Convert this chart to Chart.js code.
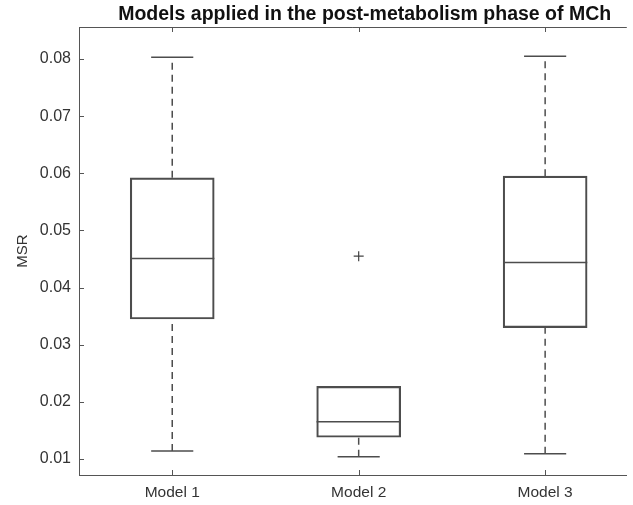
<!DOCTYPE html>
<html>
<head>
<meta charset="utf-8">
<script src="https://cdn.jsdelivr.net/npm/chart.js@4"></script>
<style>
  body { margin: 0; background: #fff; }
  #wrap { width: 633px; height: 505px; }
</style>
</head>
<body>
<div id="wrap"><canvas id="boxCanvas"></canvas></div>
<script>
// box plot stats
const models = ["Model 1", "Model 2", "Model 3"];
const lowWhisker = [0.0114, 0.0104, 0.0109];
const q1 = [0.0345, 0.0138, 0.0330];
const medians = [0.0451, 0.0165, 0.0444];
const q3 = [0.0592, 0.0227, 0.0595];
const highWhisker = [0.0803, 0.0227, 0.0805];
const outliers = [{ model: 2, value: 0.0455 }];
const yTicks = [0.01, 0.02, 0.03, 0.04, 0.05, 0.06, 0.07, 0.08];

const boxHalf = 0.226;
const capHalf = 0.113;
const lineColor = "#4d4d4d";

// build point lists for the library (null breaks a line)
let boxData = [];
let medianPts = [];
let whiskerPts = [];
let capPts = [];
for (let i = 0; i < models.length; i++) {
  const x = i + 1;
  boxData.push({ x: x, y: [q1[i], q3[i]] });
  medianPts.push({ x: x - boxHalf, y: medians[i] }, { x: x + boxHalf, y: medians[i] }, { x: x, y: null });
  whiskerPts.push({ x: x, y: q3[i] }, { x: x, y: highWhisker[i] }, { x: x + 0.5, y: null });
  whiskerPts.push({ x: x, y: lowWhisker[i] }, { x: x, y: q1[i] }, { x: x + 0.5, y: null });
  if (highWhisker[i] > q3[i]) {
    capPts.push({ x: x - capHalf, y: highWhisker[i] }, { x: x + capHalf, y: highWhisker[i] }, { x: x, y: null });
  }
  capPts.push({ x: x - capHalf, y: lowWhisker[i] }, { x: x + capHalf, y: lowWhisker[i] }, { x: x, y: null });
}
const outlierPts = outliers.map((o) => ({ x: o.model, y: o.value }));

// matlab style frame: top line, inward ticks, title over the axes
const matlabFrame = {
  id: "matlabFrame",
  afterDraw(chart) {
    const ctx = chart.ctx;
    const area = chart.chartArea;
    const xs = chart.scales.x;
    const ys = chart.scales.y;
    ctx.save();
    ctx.strokeStyle = "#555";
    ctx.lineWidth = 1;
    ctx.beginPath();
    ctx.moveTo(area.left, area.top + 0.5);
    ctx.lineTo(area.right, area.top + 0.5);
    for (let i = 0; i < yTicks.length; i++) {
      const py = Math.round(ys.getPixelForValue(yTicks[i])) + 0.5;
      ctx.moveTo(area.left, py);
      ctx.lineTo(area.left + 5, py);
    }
    for (let i = 0; i < models.length; i++) {
      const px = Math.round(xs.getPixelForValue(i + 1)) + 0.5;
      ctx.moveTo(px, area.bottom);
      ctx.lineTo(px, area.bottom - 5);
      ctx.moveTo(px, area.top);
      ctx.lineTo(px, area.top + 5);
    }
    ctx.stroke();
    ctx.fillStyle = "#111";
    ctx.font = "bold 19.5px 'Liberation Sans', Arial, sans-serif";
    ctx.textAlign = "center";
    ctx.textBaseline = "middle";
    const cx = (xs.getPixelForValue(0.5) + xs.getPixelForValue(3.5)) / 2 + 6;
    ctx.fillText("Models applied in the post-metabolism phase of MCh", cx, 15);
    ctx.restore();
  },
};

Chart.defaults.font.family = "'Liberation Sans', Arial, sans-serif";

new Chart(document.getElementById("boxCanvas"), {
  type: "bar",
  data: {
    datasets: [
      {
        type: "bar",
        data: boxData,
        backgroundColor: "rgba(255,255,255,0)",
        borderColor: lineColor,
        borderWidth: 1.5,
        borderSkipped: false,
        barThickness: 84,
        order: 2,
      },
      {
        type: "line",
        data: medianPts,
        borderColor: lineColor,
        borderWidth: 1.5,
        pointRadius: 0,
        spanGaps: false,
        order: 1,
      },
      {
        type: "line",
        data: whiskerPts,
        borderColor: lineColor,
        borderWidth: 1.5,
        borderDash: [7, 5],
        pointRadius: 0,
        spanGaps: false,
        order: 1,
      },
      {
        type: "line",
        data: capPts,
        borderColor: lineColor,
        borderWidth: 1.5,
        pointRadius: 0,
        spanGaps: false,
        order: 1,
      },
      {
        type: "scatter",
        data: outlierPts,
        pointStyle: "cross",
        pointRadius: 5,
        borderColor: "#444",
        borderWidth: 1.2,
        order: 0,
      },
    ],
  },
  options: {
    responsive: true,
    maintainAspectRatio: false,
    animation: false,
    layout: { padding: { top: 27, right: 0, left: 0, bottom: 0 } },
    plugins: {
      legend: { display: false },
      tooltip: { enabled: false },
    },
    scales: {
      x: {
        type: "linear",
        offset: false,
        min: 0.5,
        max: 3.438,
        afterBuildTicks: (scale) => {
          scale.ticks = models.map((m, i) => ({ value: i + 1 }));
        },
        afterFit: (scale) => {
          scale.height = 30;
        },
        ticks: {
          padding: 8,
          color: "#333",
          font: { size: 15.5 },
          callback: (v) => models[Math.round(v) - 1],
        },
        grid: { display: true, offset: false, drawOnChartArea: false, drawTicks: false },
        border: { display: true, color: "#555", width: 1 },
      },
      y: {
        min: 0.0072,
        max: 0.0856,
        afterBuildTicks: (scale) => {
          scale.ticks = yTicks.map((v) => ({ value: v }));
        },
        afterFit: (scale) => {
          scale.width = 79;
        },
        ticks: {
          padding: 8,
          color: "#333",
          font: { size: 16 },
          callback: (v) => v.toFixed(2),
        },
        title: {
          display: true,
          text: "MSR",
          color: "#333",
          font: { size: 15 },
          padding: { top: 14, bottom: 0 },
        },
        grid: { display: true, drawOnChartArea: false, drawTicks: false },
        border: { display: true, color: "#555", width: 1 },
      },
    },
  },
  plugins: [matlabFrame],
});
</script>
</body>
</html>
